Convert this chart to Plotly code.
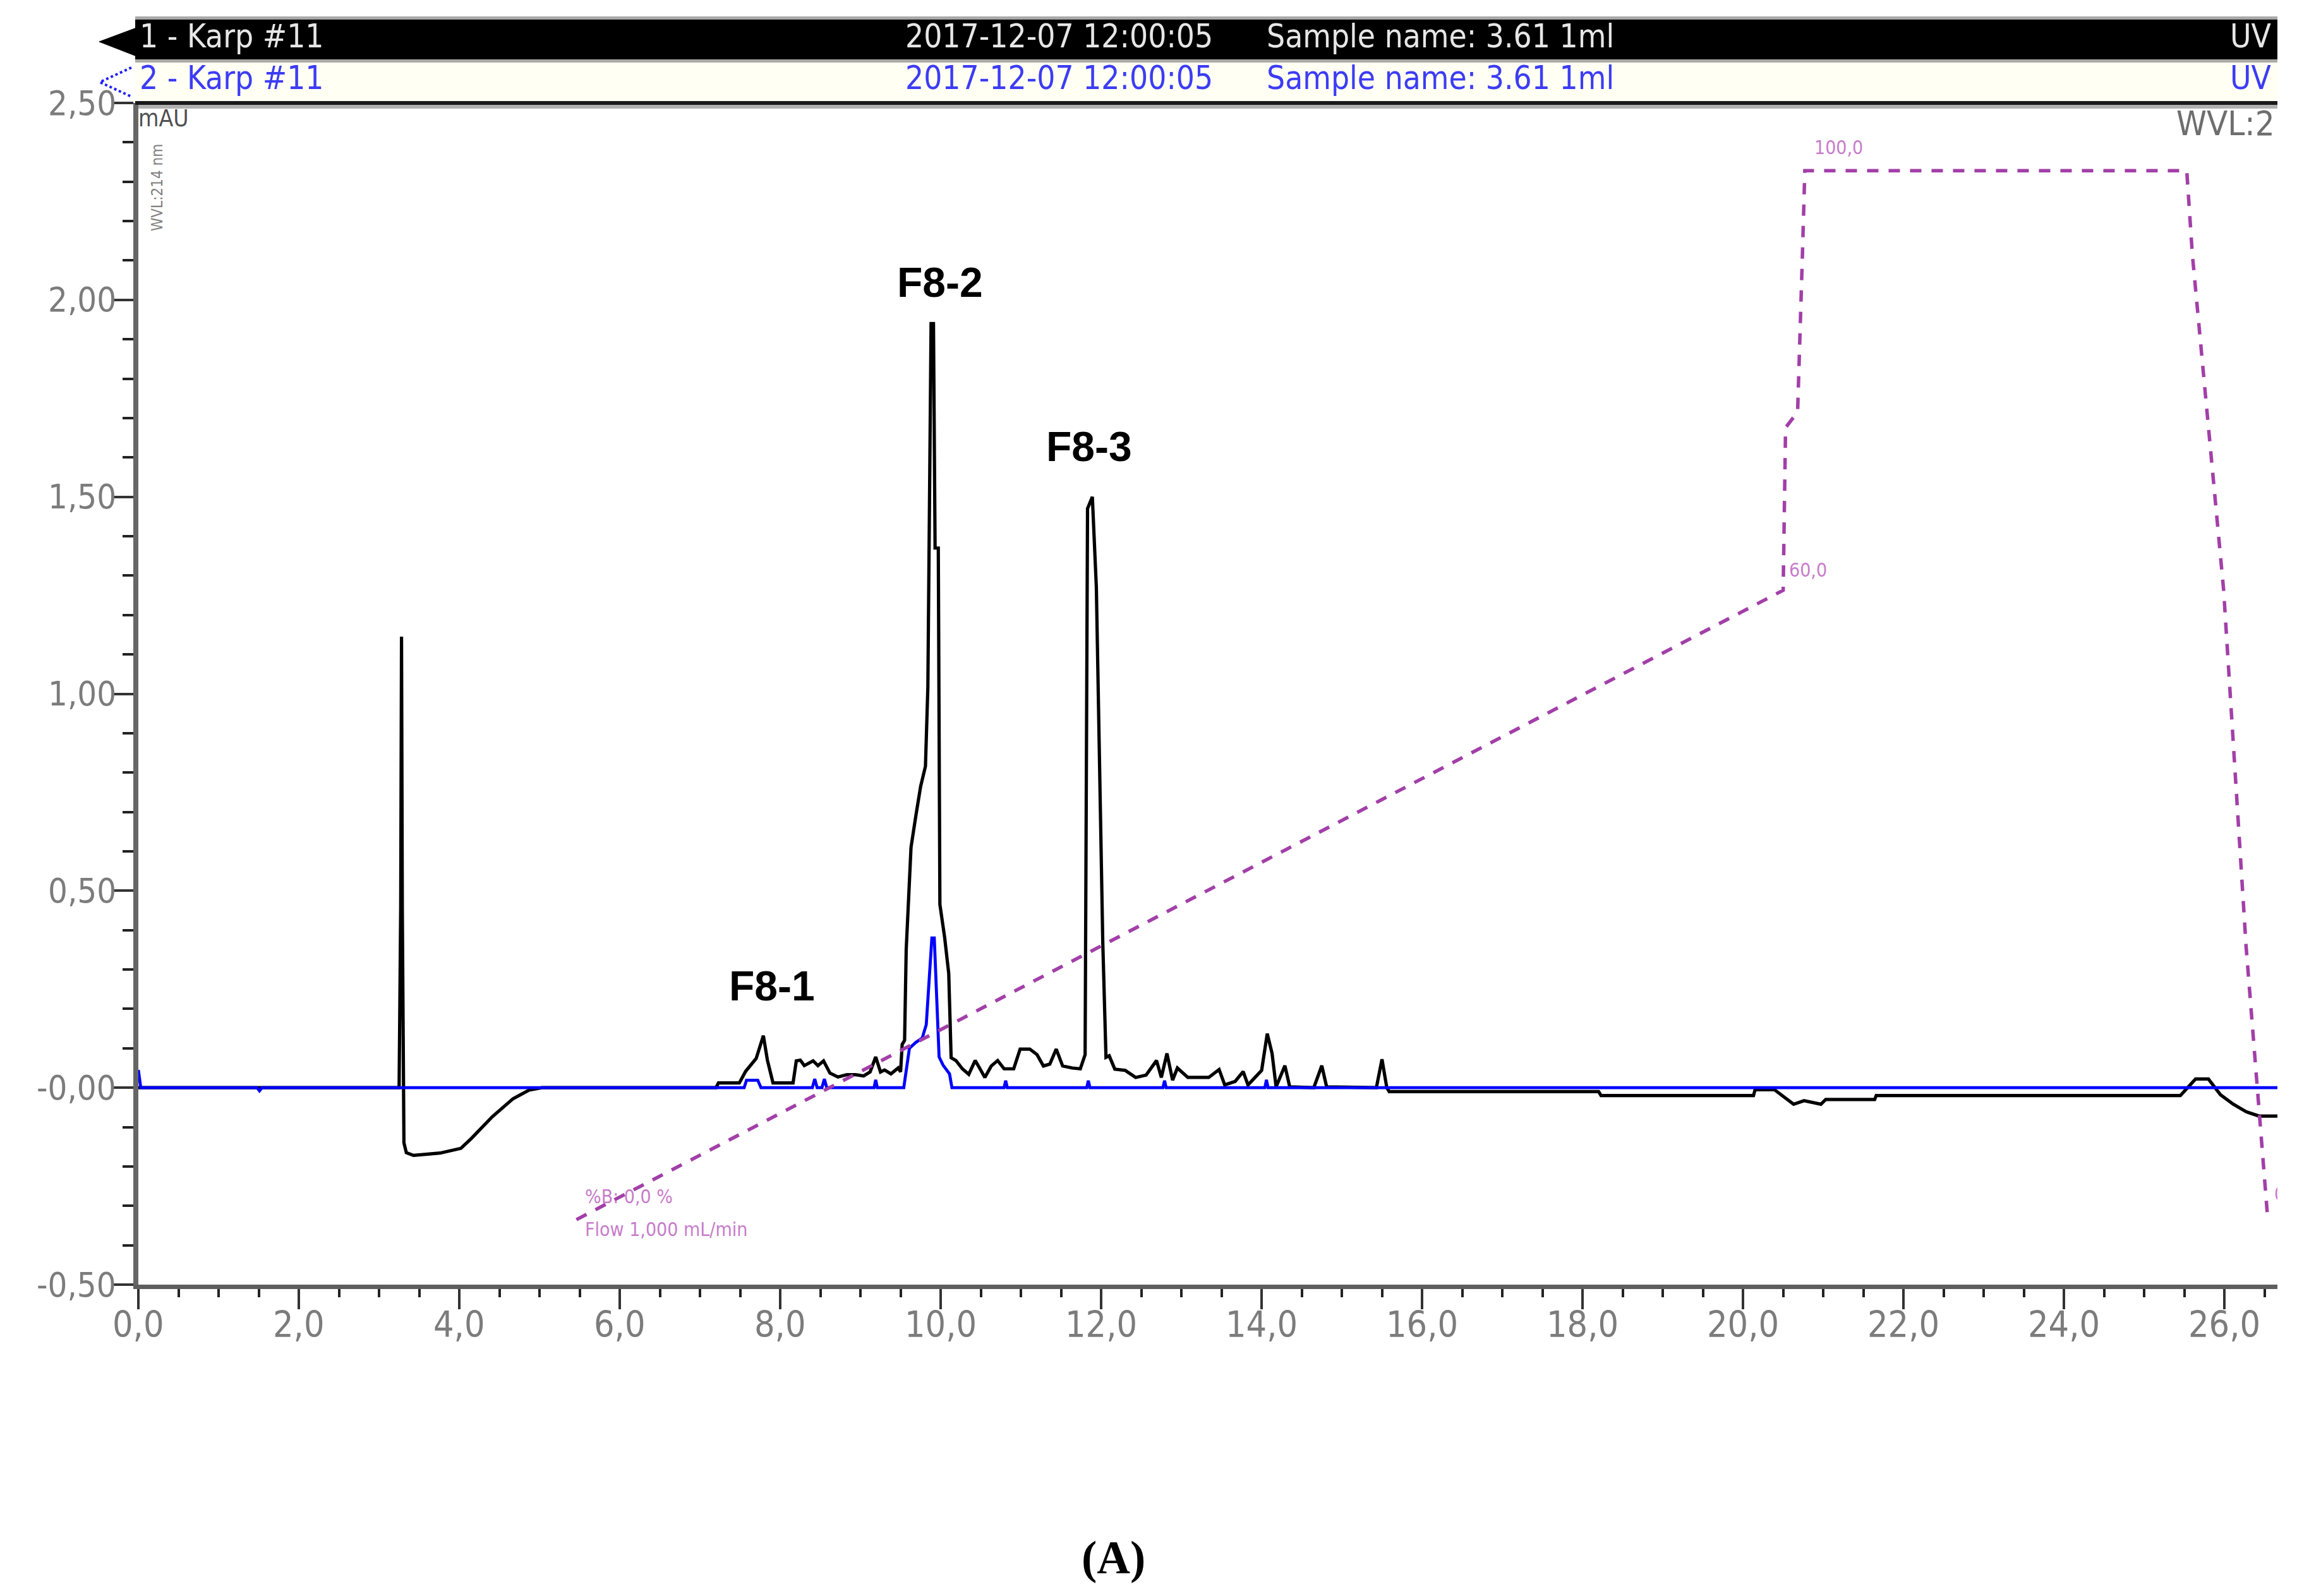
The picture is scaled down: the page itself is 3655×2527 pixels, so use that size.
import plotly.graph_objects as go

# ---------------- data ----------------
# UV trace 1 (black), retention time [min] vs signal [mAU]
uv1_time = [0, 3.25, 3.27, 3.28, 3.29, 3.31, 3.34, 3.43, 3.76, 4.02, 4.15, 4.41, 4.67, 4.87, 5.03,
            7.20, 7.23, 7.49, 7.57, 7.70, 7.79, 7.84, 7.91, 8.16,
            8.20, 8.25, 8.30, 8.41, 8.47, 8.54, 8.62, 8.72, 8.83, 8.94, 9.04, 9.12, 9.19, 9.25, 9.30, 9.38, 9.47, 9.50, 9.52, 9.55,
            9.57, 9.63, 9.69, 9.75, 9.81, 9.84, 9.88, 9.91, 9.93, 9.97, 9.99, 10.05, 10.10, 10.13,
            10.19, 10.27, 10.35, 10.43, 10.49, 10.55, 10.63, 10.71, 10.79, 10.91, 10.99, 11.11, 11.20, 11.28, 11.36, 11.44, 11.52, 11.64, 11.74, 11.80,
            11.83, 11.89, 11.94, 11.98, 12.02, 12.06,
            12.10, 12.17, 12.30, 12.43, 12.56, 12.69, 12.75, 12.82, 12.89, 12.95, 13.08, 13.34, 13.47, 13.54, 13.67, 13.77, 13.83, 14.00, 14.07, 14.13, 14.18, 14.29, 14.35, 14.65, 14.75, 14.81, 15.43, 15.50, 15.56, 15.59,
            18.20, 18.23, 20.13, 20.15, 20.39, 20.63, 20.76, 20.97, 21.03, 21.64, 21.66, 25.45, 25.64, 25.80, 25.95, 26.11, 26.27, 26.43, 26.66]
uv1_mau = [0, 0, 0.46, 1.145, 0.45, -0.14, -0.165, -0.172, -0.166, -0.154, -0.129, -0.074, -0.028, -0.006, 0,
           0, 0.012, 0.012, 0.042, 0.074, 0.132, 0.07, 0.012, 0.012,
           0.068, 0.07, 0.056, 0.068, 0.056, 0.068, 0.037, 0.027, 0.033, 0.033, 0.03, 0.04, 0.078, 0.04, 0.045, 0.035, 0.05, 0.04, 0.11, 0.12,
           0.35, 0.61, 0.69, 0.765, 0.816, 1.017, 1.94, 1.94, 1.37, 1.37, 0.465, 0.38, 0.29, 0.076,
           0.069, 0.048, 0.034, 0.069, 0.048, 0.026, 0.055, 0.069, 0.048, 0.048, 0.098, 0.098, 0.084, 0.055, 0.06, 0.098, 0.055, 0.05, 0.048, 0.084,
           1.47, 1.50, 1.27, 0.845, 0.37, 0.077,
           0.081, 0.047, 0.044, 0.026, 0.032, 0.069, 0.026, 0.087, 0.019, 0.05, 0.026, 0.026, 0.046, 0.007, 0.016, 0.041, 0.007, 0.044, 0.137, 0.087, 0.002, 0.056, 0.002, 0.0, 0.056, 0.002, 0.0, 0.072, 0.0, -0.01,
           -0.01, -0.02, -0.02, -0.005, -0.005, -0.042, -0.033, -0.042, -0.03, -0.03, -0.02, -0.02, 0.022, 0.022, -0.018, -0.042, -0.061, -0.072, -0.072]

# UV trace 2 (blue)
uv2_time = [0, 0.03, 0.06, 1.48, 1.51, 1.54, 7.20, 7.55, 7.58, 7.72, 7.76, 8.40, 8.43, 8.46, 8.52, 8.55, 8.58,
            9.17, 9.19, 9.21, 9.54, 9.57, 9.61, 9.69, 9.77, 9.82, 9.86, 9.89, 9.92, 9.95, 9.98, 10.03, 10.11, 10.14,
            10.79, 10.81, 10.83, 11.82, 11.84, 11.86, 12.77, 12.79, 12.81, 14.04, 14.06, 14.08, 26.66]
uv2_mau = [0.045, 0.0, 0, 0, -0.008, 0, 0, 0, 0.019, 0.019, 0, 0, 0.022, 0, 0, 0.022, 0,
           0, 0.02, 0, 0, 0.046, 0.10, 0.115, 0.126, 0.16, 0.30, 0.38, 0.38, 0.23, 0.078, 0.057, 0.035, 0,
           0, 0.018, 0, 0, 0.018, 0, 0, 0.018, 0, 0, 0.02, 0, 0]

# Gradient program (%B)
grad_time = [5.46, 20.50, 20.53, 20.68, 20.74, 20.77, 25.53, 25.60, 25.99, 26.27, 26.54]
grad_pctB = [0, 60, 75.5, 77, 92, 100, 100, 92, 60, 26, 0]

# Peak labels
peak_names = ["F8-1", "F8-2", "F8-3"]
peak_time = [7.90, 9.99, 11.85]
peak_level = [0.258, 2.045, 1.628]

# Axis ticks
x_tickvals = list(range(0, 27, 2))
x_ticktext = [f"{v},0" for v in x_tickvals]
y_tickvals = [-0.5, 0.0, 0.5, 1.0, 1.5, 2.0, 2.5]
y_ticktext = ["-0,50", "-0,00", "0,50", "1,00", "1,50", "2,00", "2,50"]

# Header rows
hdr_rows = [["1 - Karp #11", "2017-12-07 12:00:05", "Sample name: 3.61 1ml", "UV"],
            ["2 - Karp #11", "2017-12-07 12:00:05", "Sample name: 3.61 1ml", "UV"]]

assert len(uv1_time) == len(uv1_mau)
assert len(uv2_time) == len(uv2_mau)
assert len(grad_time) == len(grad_pctB)

# ---------------- geometry (screen pixels; page body adds an 8 px offset) ----------------
W, H = 3655, 2527
OFF = 8
SX0, SX1 = 219, 3605          # plot left / right on screen
SY_TOP, SY_BOT = 25, 2034     # header top / plot bottom on screen
MAIN_TOP = 163                # top of the main plot on screen
L = SX0 - OFF
R = W - (SX1 - OFF)
T = SY_TOP - OFF
B = H - (SY_BOT - OFF)
D = (SY_BOT - MAIN_TOP) / (SY_BOT - SY_TOP)
XMAX = 26.66
YMIN, YMAX = -0.5, 2.5
# %B axis: 0 % -> -0.335 mAU, 100 % -> 2.328 mAU
B0, B100 = -0.335, 2.328
bscale = (B100 - B0) / 100.0
y2_range = [(YMIN - B0) / bscale, (YMAX - B0) / bscale]


def px(x):
    return (x - SX0) / (SX1 - SX0)


def py(y):
    return (SY_BOT - y) / (SY_BOT - SY_TOP)


NARROW = "Liberation Sans Narrow, Arial Narrow, DejaVu Sans Condensed, Liberation Sans, sans-serif"
GRAD_C = "#A23FA8"
LABEL_PURPLE = "#C87CCB"
TICK_GRAY = "#7C7C7C"

fig = go.Figure()

# gradient (dashed)
fig.add_trace(go.Scatter(x=grad_time, y=grad_pctB, yaxis="y2", mode="lines",
                         line=dict(color=GRAD_C, width=5.5, dash="18px,16px"), showlegend=False, hoverinfo="skip"))
# black trace
fig.add_trace(go.Scatter(x=uv1_time, y=uv1_mau, mode="lines",
                         line=dict(color="#000000", width=5.2), showlegend=False))
# blue trace
fig.add_trace(go.Scatter(x=uv2_time, y=uv2_mau, mode="lines",
                         line=dict(color="#0000FF", width=4.8), showlegend=False))

# cut-off gradient end label at right edge
fig.add_trace(go.Scatter(x=[26.62], y=[-0.274], mode="text", text=["0,0"], textposition="middle right",
                         textfont=dict(family=NARROW, size=30, color=LABEL_PURPLE), showlegend=False, hoverinfo="skip"))

# header texts in their own (screen-pixel) subplot so they are clipped at the right edge
hdr_x = [221, 1433, 2005, 3530]
hdr_y = [-62, -128]
hdr_colors = ["#E6E6E6", "#3C3CF5"]
for r in range(2):
    fig.add_trace(go.Scatter(x=hdr_x, y=[hdr_y[r]] * 4, xaxis="x3", yaxis="y3", mode="text",
                             text=hdr_rows[r], textposition="middle right",
                             textfont=dict(family=NARROW, size=51, color=hdr_colors[r]),
                             showlegend=False, hoverinfo="skip", cliponaxis=True))

shapes = []
# header decorations (paper coords)
shapes.append(dict(type="rect", xref="paper", yref="paper", x0=px(214), x1=px(3605), y0=py(31), y1=py(26),
                   fillcolor="#A8A8A8", line_width=0, layer="below"))
shapes.append(dict(type="rect", xref="paper", yref="paper", x0=px(214), x1=px(3605), y0=py(94), y1=py(31),
                   fillcolor="#000000", line_width=0, layer="below"))
shapes.append(dict(type="rect", xref="paper", yref="paper", x0=px(214), x1=px(3605), y0=py(99), y1=py(94),
                   fillcolor="#ABABA5", line_width=0, layer="below"))
shapes.append(dict(type="rect", xref="paper", yref="paper", x0=px(214), x1=px(3605), y0=py(159), y1=py(99),
                   fillcolor="#FFFFF3", line_width=0, layer="below"))
shapes.append(dict(type="rect", xref="paper", yref="paper", x0=px(214), x1=px(3605), y0=py(172), y1=py(166),
                   fillcolor="#B0B0B0", line_width=0, layer="below"))
shapes.append(dict(type="rect", xref="paper", yref="paper", x0=px(214), x1=px(3605), y0=py(166), y1=py(160),
                   fillcolor="#1A1A1A", line_width=0, layer="above"))
# black arrow at the left of the first header row
shapes.append(dict(type="path", xref="paper", yref="paper",
                   path=f"M {px(216)},{py(44)} L {px(157)},{py(66)} L {px(216)},{py(89)} Z",
                   fillcolor="#000000", line=dict(color="#000000", width=1)))
# dotted blue arrow for second row
shapes.append(dict(type="path", xref="paper", yref="paper",
                   path=f"M {px(208)},{py(107)} L {px(158)},{py(130)} L {px(208)},{py(153)}",
                   line=dict(color="#2020FF", width=4, dash="dot")))

annotations = []
# axis tick labels (placed explicitly for exact positioning)
for v, txt in zip(x_tickvals, x_ticktext):
    annotations.append(dict(x=v, y=py(2097), xref="x", yref="paper", text=txt, showarrow=False,
                            font=dict(family=NARROW, size=57, color=TICK_GRAY), xanchor="center", yanchor="middle"))
for v, txt in zip(y_tickvals, y_ticktext):
    annotations.append(dict(x=px(186), y=v, xref="paper", yref="y", text=txt, showarrow=False,
                            font=dict(family=NARROW, size=54, color=TICK_GRAY), xanchor="right", yanchor="middle"))

for n, t, v in zip(peak_names, peak_time, peak_level):
    annotations.append(dict(x=t, y=v, xref="x", yref="y", text=f"<b>{n}</b>", showarrow=False,
                            font=dict(family="Liberation Sans, Arial, sans-serif", size=66, color="#000000"),
                            xanchor="center", yanchor="middle"))
# gradient labels
grad_labels = [("100,0", 20.87, 2.387), ("60,0", 20.56, 1.315), ("%B: 0,0 %", 5.55, -0.277),
               ("Flow 1,000 mL/min", 5.55, -0.359)]
for txt, t, v in grad_labels:
    annotations.append(dict(x=t, y=v, xref="x", yref="y", text=txt, showarrow=False,
                            font=dict(family=NARROW, size=30, color=LABEL_PURPLE), xanchor="left", yanchor="middle"))
# detector label at top right (ends at the cropped right edge)
annotations.append(dict(x=px(3603), y=py(196), xref="paper", yref="paper", text="WVL:2", showarrow=False,
                        font=dict(family=NARROW, size=54, color="#6E6E6E"), xanchor="right", yanchor="middle"))
# mAU unit label
annotations.append(dict(x=px(217), y=py(188), xref="paper", yref="paper", text="mAU", showarrow=False,
                        font=dict(family=NARROW, size=37, color="#505050"), xanchor="left", yanchor="middle"))
annotations.append(dict(x=px(249), y=py(297), xref="paper", yref="paper", text="WVL:214 nm", showarrow=False,
                        textangle=-90, font=dict(family=NARROW, size=24, color="#808080"),
                        xanchor="center", yanchor="middle"))
# panel label
annotations.append(dict(x=px(1762), y=py(2466), xref="paper", yref="paper", text="<b>(A)</b>", showarrow=False,
                        font=dict(family="Liberation Serif, Times New Roman, serif", size=73, color="#000000"),
                        xanchor="center", yanchor="middle"))

fig.update_layout(
    width=W, height=H,
    margin=dict(l=L, r=R, t=T, b=B, autoexpand=False),
    paper_bgcolor="white", plot_bgcolor="white",
    showlegend=False,
    shapes=shapes, annotations=annotations,
    xaxis=dict(domain=[0, 1], range=[0, XMAX], anchor="y",
               tickmode="array", tickvals=x_tickvals, showticklabels=False,
               ticks="outside", ticklen=32, tickwidth=4, tickcolor="#333333",
               minor=dict(dtick=0.5, ticks="outside", ticklen=13, tickwidth=4, tickcolor="#222222", showgrid=False),
               showline=True, linecolor="#5E5E5E", linewidth=7,
               showgrid=False, zeroline=False),
    yaxis=dict(domain=[0, D], range=[YMIN, YMAX], anchor="x",
               tickmode="array", tickvals=y_tickvals, showticklabels=False,
               ticks="outside", ticklen=32, tickwidth=4, tickcolor="#333333",
               minor=dict(dtick=0.1, ticks="outside", ticklen=17, tickwidth=4, tickcolor="#222222", showgrid=False),
               showline=True, linecolor="#666666", linewidth=8,
               showgrid=False, zeroline=False),
    yaxis2=dict(overlaying="y", range=y2_range, visible=False, anchor="x"),
    xaxis3=dict(domain=[0, 1], range=[SX0, SX1], anchor="y3", visible=False),
    yaxis3=dict(domain=[D, 1], range=[-MAIN_TOP, -SY_TOP], anchor="x3", visible=False),
)

fig.write_html("out.html")
